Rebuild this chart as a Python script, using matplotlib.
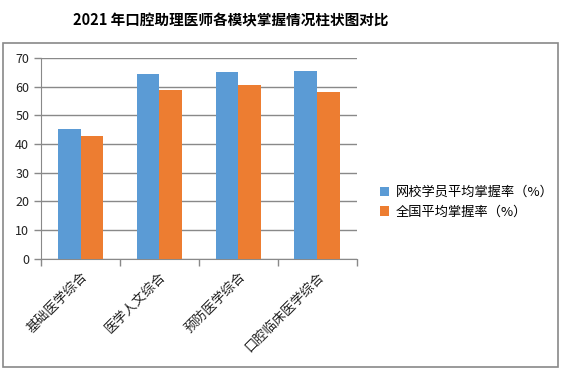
import numpy as np
import matplotlib.pyplot as plt
from matplotlib.patches import Rectangle

plt.rcParams['font.family'] = ['Noto Sans CJK SC', 'DejaVu Sans']

# data
categories = ['基础医学综合', '医学人文综合', '预防医学综合', '口腔临床医学综合']
school_rate = [45.3, 64.5, 65.2, 65.5]
national_rate = [42.8, 58.9, 60.6, 58.2]
series_names = ['网校学员平均掌握率（%）', '全国平均掌握率（%）']

blue = '#5b9bd5'
orange = '#ed7d31'
grey = '#898989'

fig = plt.figure(figsize=(5.62, 3.73), dpi=100)
ax = fig.add_axes([0.073, 0.306, 0.562, 0.539])

x = np.arange(len(categories))
w = 0.29
b1 = ax.bar(x - w / 2, school_rate, w, color=blue, label=series_names[0], zorder=3)
b2 = ax.bar(x + w / 2, national_rate, w, color=orange, label=series_names[1], zorder=3)

ax.set_xlim(-0.5, len(categories) - 0.5)
ax.set_ylim(0, 70)
ax.set_yticks(range(0, 71, 10))
ax.yaxis.grid(True, color=grey, linewidth=1)
ax.set_axisbelow(True)

# category boundary ticks
ax.set_xticks(np.arange(-0.5, len(categories), 1))
ax.set_xticklabels([])
ax.set_xticks(x, minor=True)
ax.set_xticklabels(categories, minor=True, rotation=45, ha='right',
                   rotation_mode='anchor', fontsize=9.5, color='#222222')
ax.tick_params(axis='x', which='minor', length=0, pad=8)
ax.tick_params(axis='x', which='major', length=5, color=grey, width=1)
ax.tick_params(axis='y', length=5, color=grey, width=1, labelsize=9,
               labelcolor='#222222')

for side in ['top', 'right']:
    ax.spines[side].set_visible(False)
ax.spines['left'].set_color(grey)
ax.spines['bottom'].set_color(grey)

fig.legend(handles=[b1, b2], loc='upper left', bbox_to_anchor=(0.655, 0.533),
           frameon=False, fontsize=9.5, handlelength=0.7, handleheight=0.7,
           handletextpad=0.5, labelspacing=0.5)

fig.text(0.41, 0.945, '2021 年口腔助理医师各模块掌握情况柱状图对比',
         ha='center', va='center', fontsize=10.5, fontweight='bold')

fig.patches.append(Rectangle((0.0053, 0.016), 0.9875, 0.869, transform=fig.transFigure,
                             fill=False, edgecolor=grey, linewidth=1.2))

fig.savefig('out.png', dpi=100)
